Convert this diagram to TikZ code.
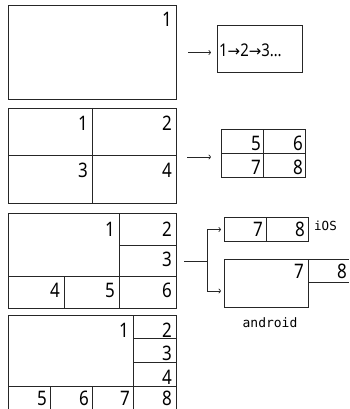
\documentclass[tikz,border=0pt]{standalone}
\usepackage{fontspec}
\usepackage{graphicx}
\setmainfont{Noto Sans}
\newfontfamily\arrfont{DejaVu Sans}
\newfontfamily\monof{DejaVu Sans Mono}
\usetikzlibrary{arrows.meta}
\newcommand{\dg}[1]{\scalebox{0.85}[1]{#1}}
\newcommand{\arw}{{\arrfont\fontsize{15}{15}\selectfont→}}
\begin{document}
\begin{tikzpicture}[x=1pt,y=-1pt,
  ln/.style={draw=black!85,line width=1pt},
  frame/.style={ln,rectangle,inner sep=0pt,anchor=north west},
  lbl/.style={anchor=base east,inner sep=0pt,font=\fontsize{20}{20}\selectfont},
  arr/.style={draw=black!85,line width=0.7pt,-{To[length=2.5pt,width=5pt]}},
  con/.style={draw=black!85,line width=0.7pt}]
\useasboundingbox (0,0) rectangle (349,409);

% ---------- row 1 ----------
\node[frame,minimum width=168pt,minimum height=94pt] (b1) at (8,5) {};
\node[lbl] (b1l1) at (172,27) {\dg{1}};
\node[frame,minimum width=85pt,minimum height=47pt] (r1) at (217,25) {};
\node[anchor=base west,inner sep=0pt,font=\fontsize{17.5}{17.5}\selectfont] (r1t) at (219,57)
  {\dg{1}\arw\dg{2}\arw\dg{3}\dg{…}};
\draw[arr,shorten <=11pt,shorten >=6pt] (b1.east) -- (b1.east -| r1.west);

% ---------- row 2 ----------
\node[frame,minimum width=168pt,minimum height=95pt] (b2) at (8,108) {};
\draw[ln] (92,108) -- (92,203);
\draw[ln] (8,155) -- (176,155);
\node[lbl] (b2l1) at (88,130) {\dg{1}};
\node[lbl] (b2l2) at (172,130) {\dg{2}};
\node[lbl] (b2l3) at (88,177) {\dg{3}};
\node[lbl] (b2l4) at (172,177) {\dg{4}};
\node[frame,minimum width=84pt,minimum height=48pt] (r2) at (221,129) {};
\draw[ln] (263,129) -- (263,177);
\draw[ln] (221,153) -- (305,153);
\node[lbl] (r2l5) at (261,150) {\dg{5}};
\node[lbl] (r2l6) at (303,150) {\dg{6}};
\node[lbl] (r2l7) at (261,174) {\dg{7}};
\node[lbl] (r2l8) at (303,174) {\dg{8}};
\coordinate (a2) at (176,157);
\draw[arr,shorten <=11pt,shorten >=10pt] (a2) -- (a2 -| r2.west);

% ---------- row 3 ----------
\node[frame,minimum width=168pt,minimum height=95pt] (b3) at (8,213) {};
\draw[ln] (119,213) -- (119,308);
\draw[ln] (8,276) -- (176,276);
\draw[ln] (64,276) -- (64,308);
\draw[ln] (119,245) -- (176,245);
\node[lbl] (b3l1) at (115,236) {\dg{1}};
\node[lbl] (b3l2) at (172,236) {\dg{2}};
\node[lbl] (b3l3) at (172,266) {\dg{3}};
\node[lbl] (b3l4) at (60,297) {\dg{4}};
\node[lbl] (b3l5) at (115,297) {\dg{5}};
\node[lbl] (b3l6) at (172,297) {\dg{6}};

\node[frame,minimum width=84pt,minimum height=24pt] (ios) at (224,217) {};
\draw[ln] (266,217) -- (266,241);
\node[lbl] (iosl7) at (263,236) {\dg{7}};
\node[lbl] (iosl8) at (305,236) {\dg{8}};
\node[anchor=base west,inner sep=0pt,font=\monof\fontsize{12.5}{12.5}\selectfont] (iost) at (314,230) {iOS};

\node[frame,minimum width=84pt,minimum height=48pt] (andr) at (224,259) {};
\draw[ln] (308,259) -- (349,259);
\draw[ln] (308,282) -- (349,282);
\node[lbl] (andl7) at (304,278) {\dg{7}};
\node[lbl] (andl8) at (347,278) {\dg{8}};
\node[anchor=base,inner sep=0pt,font=\monof\fontsize{13}{13}\selectfont] (andt) at (270,327) {android};

\coordinate (br) at (207,261);
\draw[con,shorten <=7pt] (b3.east) -- (br);
\draw[arr,shorten >=3pt] (br) |- (ios.west);
\coordinate (andin) at (224,291);
\draw[arr,shorten >=3pt] (br) |- (andin);

% ---------- row 4 (cut off at the bottom edge) ----------
\draw[ln] (8,409) -- (8,315) -- (176,315) -- (176,409);
\draw[ln] (133,315) -- (133,409);
\draw[ln] (133,338) -- (176,338);
\draw[ln] (133,362) -- (176,362);
\draw[ln] (8,386) -- (176,386);
\draw[ln] (50,386) -- (50,409);
\draw[ln] (92,386) -- (92,409);
\node[lbl] (b4l1) at (129,337) {\dg{1}};
\node[lbl] (b4l2) at (172,337) {\dg{2}};
\node[lbl] (b4l3) at (172,360) {\dg{3}};
\node[lbl] (b4l4) at (172,384) {\dg{4}};
\node[lbl] (b4l5) at (47,405.5) {\dg{5}};
\node[lbl] (b4l6) at (89,405.5) {\dg{6}};
\node[lbl] (b4l7) at (130,405.5) {\dg{7}};
\node[lbl] (b4l8) at (172,405.5) {\dg{8}};
\end{tikzpicture}
\end{document}
